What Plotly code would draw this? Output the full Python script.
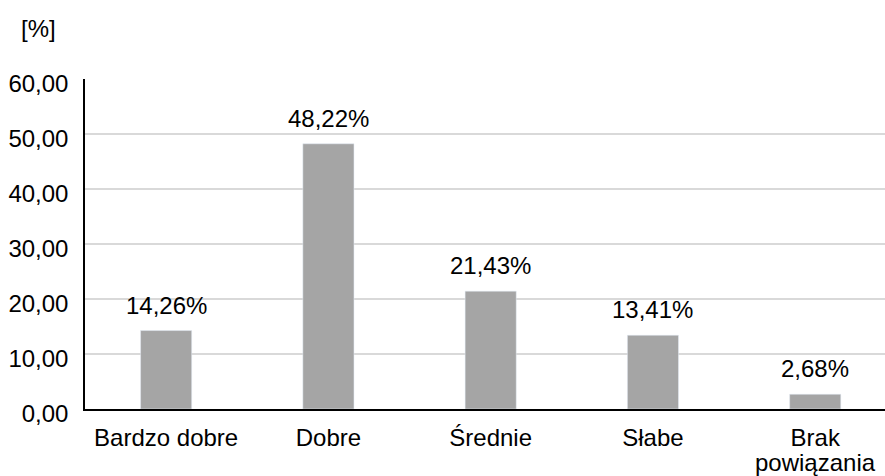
import plotly.graph_objects as go

categories = ["Bardzo dobre", "Dobre", "Średnie", "Słabe", "Brak powiązania"]
tick_line1 = ["Bardzo dobre", "Dobre", "Średnie", "Słabe", "Brak"]
tick_line2 = ["", "", "", "", "powiązania"]
values = [14.26, 48.22, 21.43, 13.41, 2.68]
labels = ["14,26%", "48,22%", "21,43%", "13,41%", "2,68%"]
tick_vals = [0, 10, 20, 30, 40, 50, 60]
tick_text = ["0,00", "10,00", "20,00", "30,00", "40,00", "50,00", "60,00"]

FONT = "Liberation Sans, Arial, sans-serif"
FS = 24

fig = go.Figure()
fig.add_trace(go.Bar(x=list(range(len(categories))), y=values, marker_color="#A5A5A5",
                     width=0.315, hoverinfo="skip"))

for i, (v, t) in enumerate(zip(values, labels)):
    fig.add_annotation(x=i, y=v, text=t, showarrow=False, yanchor="bottom",
                       yshift=10, font=dict(size=FS, color="#000000", family=FONT))

for i, t in enumerate(tick_line2):
    if t:
        fig.add_annotation(x=i, y=0, text=t, showarrow=False, yanchor="middle",
                           yshift=-53, font=dict(size=FS, color="#000000", family=FONT))

fig.add_annotation(x=-0.083, xanchor="left", y=1.0, yanchor="middle", yshift=51,
                   xref="paper", yref="paper", text="[%]", showarrow=False,
                   font=dict(size=FS, color="#000000", family=FONT))

fig.update_layout(
    width=885, height=476,
    margin=dict(l=85, r=0, t=79, b=67),
    paper_bgcolor="white", plot_bgcolor="white",
    showlegend=False,
    font=dict(family=FONT, size=FS, color="#000000"),
    xaxis=dict(range=[-0.5, 4.43], tickvals=list(range(len(categories))), ticktext=tick_line1,
               showline=True, linecolor="#000000", linewidth=1.5, showgrid=False,
               ticks="", ticklabelstandoff=6, zeroline=False, automargin=False),
    yaxis=dict(range=[0, 60], tickvals=tick_vals, ticktext=tick_text,
               showline=True, linecolor="#000000", linewidth=1.5,
               showgrid=True, gridcolor="#D9D9D9", gridwidth=1.5,
               ticks="", ticklabelstandoff=10, ticklabelshift=5, zeroline=False, automargin=False),
)

fig.write_html("out.html", post_script="document.body.style.margin='0';",
               config={"displayModeBar": False})
